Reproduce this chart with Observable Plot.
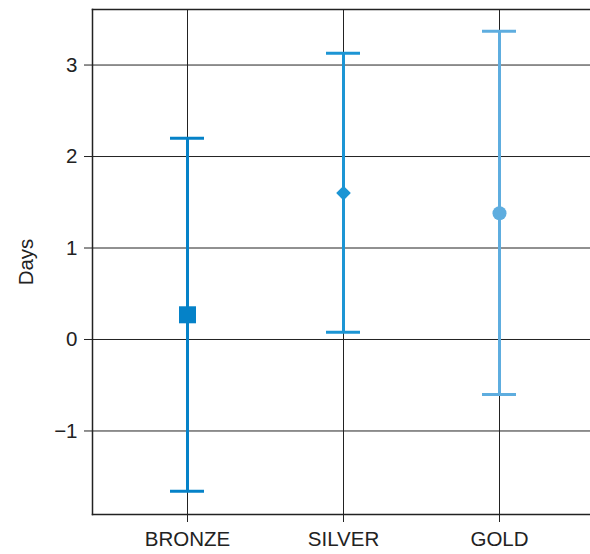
<!DOCTYPE html>
<html>
<head>
<meta charset="utf-8">
<script src="https://cdn.jsdelivr.net/npm/d3@7"></script>
<script src="https://cdn.jsdelivr.net/npm/@observablehq/plot@0.6"></script>
<style>
  html, body { margin: 0; padding: 0; background: #fff; }
  #chart svg { display: block; }
</style>
</head>
<body>
<div id="chart"></div>
<script>
const categories = ["BRONZE", "SILVER", "GOLD"];
const means = [0.27, 1.60, 1.38];
const lows = [-1.66, 0.08, -0.60];
const highs = [2.20, 3.13, 3.37];
const yTicks = [-1, 0, 1, 2, 3];

const data = categories.map((c, i) => ({cat: c, mean: means[i], lo: lows[i], hi: highs[i]}));

const colors = ["#0582c8", "#1c95d4", "#5eaddf"];
const symbols = ["square", "diamond2", "circle"];
const radii = [9.6, 6.6, 7];
const ink = "#222";
const fs = 20.5;

const chart = Plot.plot({
  width: 590,
  height: 554,
  marginLeft: 92,
  marginRight: 0,
  marginTop: 9,
  marginBottom: 40,
  style: {fontFamily: "'Liberation Sans', Arial, sans-serif", fontSize: fs + "px", color: ink, background: "#fff"},
  x: {type: "band", domain: categories, paddingInner: 0.783, paddingOuter: 0.4776, align: 0.513, label: null},
  y: {domain: [-1.913, 3.607], ticks: yTicks, label: "Days"},
  r: {type: "identity"},
  color: {domain: categories, range: colors},
  symbol: {domain: categories, range: symbols},
  marks: [
    Plot.gridX({stroke: ink, strokeOpacity: 1, strokeWidth: 1}),
    Plot.gridY(yTicks, {stroke: ink, strokeOpacity: 1, strokeWidth: 1}),
    Plot.axisX({tickSize: 8, tickPadding: 9, stroke: ink, fill: ink, fontSize: fs, label: null}),
    Plot.axisY(yTicks, {tickSize: 8, tickPadding: 7, tickFormat: d3.format("d"), stroke: ink, fill: ink, fontSize: fs, label: "Days", labelAnchor: "center", labelOffset: 74, labelArrow: "none"}),
    Plot.frame({anchor: "top", stroke: ink, strokeWidth: 1.5}),
    Plot.frame({anchor: "left", stroke: ink, strokeWidth: 1.5}),
    Plot.frame({anchor: "bottom", stroke: ink, strokeWidth: 1.5}),
    Plot.ruleX(data, {x: "cat", y1: "lo", y2: "hi", stroke: "cat", strokeWidth: 3}),
    Plot.tickY(data, {x: "cat", y: "lo", stroke: "cat", strokeWidth: 3}),
    Plot.tickY(data, {x: "cat", y: "hi", stroke: "cat", strokeWidth: 3}),
    Plot.dot(data, {x: "cat", y: "mean", symbol: "cat", fill: "cat", stroke: "none",
      r: d => radii[categories.indexOf(d.cat)]})
  ]
});
document.getElementById("chart").appendChild(chart);
</script>
</body>
</html>
